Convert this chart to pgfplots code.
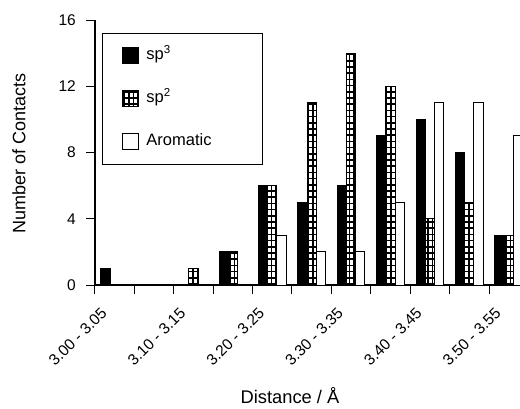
\documentclass[border=0pt]{standalone}
\usepackage{fontspec}
\setmainfont{Liberation Sans}
\usepackage{pgfplots}
\pgfplotsset{compat=1.18}
\usetikzlibrary{patterns}

% white cells with black lines, like the sp2 fill
\pgfdeclarepatternformonly{cellgrid}{\pgfpoint{-1pt}{-1pt}}{\pgfpoint{5.6pt}{7.2pt}}{\pgfpoint{4.6pt}{6.2pt}}{%
  \pgfsetlinewidth{1.5pt}%
  \pgfpathmoveto{\pgfpoint{0pt}{0pt}}\pgfpathlineto{\pgfpoint{0pt}{6.2pt}}%
  \pgfpathmoveto{\pgfpoint{0pt}{0pt}}\pgfpathlineto{\pgfpoint{4.6pt}{0pt}}%
  \pgfusepath{stroke}}

\pgfplotsset{
  boxlegend/.style={legend image code/.code={\draw[##1] (0pt,-8pt) rectangle (16pt,8pt);}},
}

\begin{document}
\begin{tikzpicture}
\path[use as bounding box, clip] (-95pt,-123pt) rectangle (425pt,285pt);
\begin{axis}[
    at={(0,0)}, anchor=south west,
    scale only axis,
    width=433.4pt, height=265pt,
    xmin=-0.5, xmax=10.5,
    ymin=0, ymax=16,
    ytick={0,4,8,12,16},
    xtick={-0.5,0.5,...,9.5},
    xticklabels={3.00 - 3.05,,3.10 - 3.15,,3.20 - 3.25,,3.30 - 3.35,,3.40 - 3.45,,3.50 - 3.55},
    axis lines=left,
    axis line style={line width=1.2pt, -},
    tick align=outside,
    major tick length=9pt,
    tick style={line width=1pt, black},
    /pgf/number format/assume math mode=true,
    yticklabel style={font=\fontsize{15.5}{18}\selectfont, inner xsep=0pt, xshift=-10pt},
    xticklabel style={font=\fontsize{15.5}{18}\selectfont, xshift=5pt, yshift=-11pt,
        rotate=45, anchor=north east, inner sep=1pt},
    xlabel={Distance / Å},
    ylabel={Number of Contacts},
    xlabel style={font=\fontsize{18.3}{20}\selectfont, at={(0.45,-0.449)}, anchor=base},
    ylabel style={font=\fontsize{18}{20}\selectfont, at={(-0.1755,0.496)}, anchor=center},
    ybar, bar width=9.2pt,
    legend style={at={(0.016,0.951)}, anchor=north west, draw=black, line width=1pt,
        inner xsep=20pt, inner ysep=14pt, row sep=26pt, column sep=7pt,
        font=\fontsize{16.5}{18}\selectfont,
        nodes={text width=96pt, text height=12pt, text depth=4pt, inner sep=0pt}},
    legend cell align=left,
]

\addplot[ybar, bar shift=-9.2pt, fill=black, draw=black, line width=1pt, boxlegend] coordinates {
    (0,1) (3,2) (4,6) (5,5) (6,6) (7,9) (8,10) (9,8) (10,3)
};
\addlegendentry{sp\textsuperscript{3}}

\addplot[ybar, bar shift=0pt, fill=white, draw=black, line width=1pt,
    postaction={pattern=cellgrid}, boxlegend] coordinates {
    (2,1) (3,2) (4,6) (5,11) (6,14) (7,12) (8,4) (9,5) (10,3)
};
\addlegendentry{sp\textsuperscript{2}}

\addplot[ybar, bar shift=9.2pt, fill=white, draw=black, line width=1pt, boxlegend] coordinates {
    (4,3) (5,2) (6,2) (7,5) (8,11) (9,11) (10,9)
};
\addlegendentry{Aromatic}

\end{axis}
\end{tikzpicture}
\end{document}
